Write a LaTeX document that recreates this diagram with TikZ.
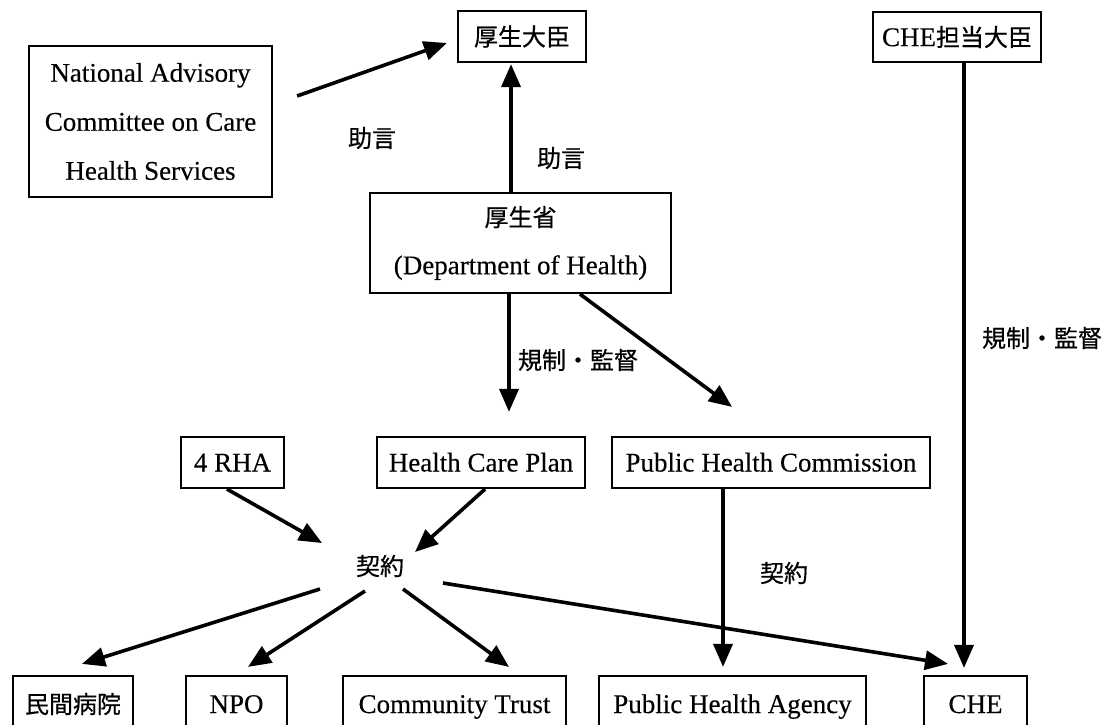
\documentclass[tikz,border=0pt]{standalone}
\usepackage{fontspec}
\setmainfont{Liberation Serif}[FakeBold=0.3]
\newfontfamily\jpfont{Noto Sans CJK JP}[FakeBold=0.6]
\usetikzlibrary{arrows.meta,calc}
\newcommand\J[1]{{\jpfont\fontsize{24}{28}\selectfont #1}}
\begin{document}
\begin{tikzpicture}[x=1pt,y=-1pt,
  box/.style={draw,line width=2.2pt,inner sep=0pt,align=center,font=\fontsize{27}{49}\selectfont},
  lat/.style={text height=18pt,text depth=0pt},
  lbl/.style={inner sep=0pt,font=\fontsize{24}{28}\selectfont\jpfont},
  arr/.style={line width=3.6pt,-{Triangle[length=23pt,width=19pt]}}]
\fill[white] (0,0) rectangle (1108,724);
\useasboundingbox (0,0) rectangle (1108,724);
% boxes
\node[box,minimum width=243pt,minimum height=151pt] (nac) at (150.5,121.5) {National Advisory\\Committee on Care\\Health Services};
\node[box,minimum width=128pt,minimum height=51pt] (kmin) at (522,36.5) {\J{厚生大臣}};
\node[box,minimum width=168pt,minimum height=50pt] (chemin) at (957,37) {CHE\J{担当大臣}};
\node[box,minimum width=301pt,minimum height=100pt,font=\fontsize{27}{48}\selectfont] (moh) at (520.5,243) {\J{厚生省}\\(Department of Health)};
\node[box,lat,minimum width=103pt,minimum height=51pt] (rha) at (232.5,462.5) {4 RHA};
\node[box,lat,minimum width=208pt,minimum height=51pt] (hcp) at (481,462.5) {Health Care Plan};
\node[box,lat,minimum width=318pt,minimum height=51pt] (phc) at (771,462.5) {Public Health Commission};
\node[box,minimum width=120pt,minimum height=56pt] (minkan) at (73,704) {\J{民間病院}};
\node[box,lat,minimum width=101pt,minimum height=56pt] (npo) at (236.5,704) {NPO};
\node[box,lat,minimum width=223pt,minimum height=56pt] (ct) at (454.5,704) {Community Trust};
\node[box,lat,minimum width=267pt,minimum height=56pt] (pha) at (732.5,704) {Public Health Agency};
\node[box,lat,minimum width=103pt,minimum height=56pt] (che) at (975.5,704) {CHE};
% labels
\node[lbl] (adv1) at (372,138) {助言};
\node[lbl] (adv2) at (561,158) {助言};
\node[lbl] (reg1) at (578,360) {規制・監督};
\node[lbl] (reg2) at (1042,338) {規制・監督};
\node[lbl] (kei) at (380,566) {契約};
\node[lbl] (kei2) at (784,573) {契約};
% free ends around the contract label
\coordinate (k1) at (322,543);
\coordinate (k2) at (415,552);
\coordinate (k3) at (320,589);
\coordinate (k4) at (365,591);
\coordinate (k5) at (403,589);
\coordinate (k6) at (443,583);
% connectors
\draw[arr] ($(nac.east)+(24,-25.5)$) -- ($(kmin.west)+(-10,6.5)$);
\draw[arr] ($(moh.north)+(-9.5,0)$) -- ($(kmin.south)+(-11,1)$);
\draw[arr] ($(moh.south)+(-11.5,0)$) -- ($(hcp.north)+(28,-24)$);
\draw[arr] ($(moh.south)+(59.5,0)$) -- ($(phc.north)+(-39,-29)$);
\draw[arr] ($(rha.south)+(-5.5,0)$) -- (k1);
\draw[arr] ($(hcp.south)+(4,0)$) -- (k2);
\draw[arr] (k3) -- ($(minkan.north)+(9,-11)$);
\draw[arr] (k4) -- ($(npo.north)+(11.5,-8)$);
\draw[arr] (k5) -- ($(ct.north)+(54.5,-8)$);
\draw[arr] (k6) -- ($(che.north)+(-27.5,-11)$);
\draw[arr] ($(phc.south)+(-48,0)$) -- ($(pha.north)+(-9.5,-8)$);
\draw[arr] ($(chemin.south)+(7,0)$) -- ($(che.north)+(-11.5,-7)$);
\end{tikzpicture}
\end{document}
